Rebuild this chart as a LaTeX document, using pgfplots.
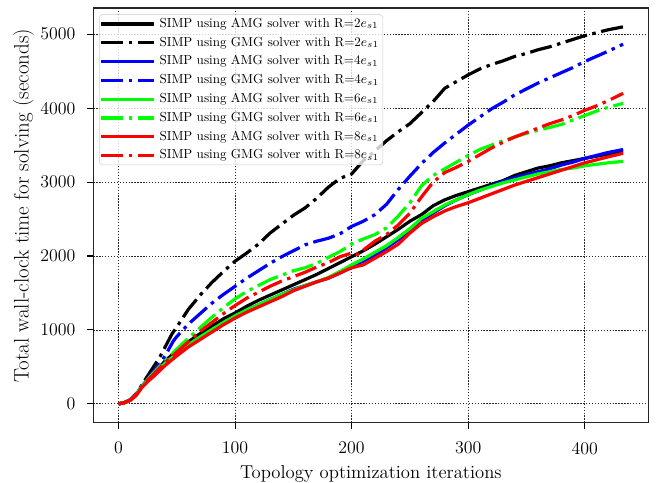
\RequirePackage{fix-cm}
\documentclass[border=0pt]{standalone}
\usepackage{fontspec}
\usepackage{pgfplots}
\pgfplotsset{compat=1.18}
\tikzset{dd/.style={dash pattern=on 16.7pt off 4.2pt on 2.6pt off 4.2pt}}
\begin{document}
\begin{tikzpicture}
\begin{axis}[
 scale only axis, width=416.25pt, height=311pt,
 xmin=-21.65, xmax=454.65, ymin=-255, ymax=5355,
 xtick={0,100,200,300,400}, ytick={0,1000,2000,3000,4000,5000},
 tick align=outside, xtick pos=bottom, ytick pos=left,
 major tick length=5pt,
 tick style={black, line width=0.8pt},
 grid=major, major grid style={black!85, line width=0.5pt, dash pattern=on 1pt off 1.2pt},
 axis line style={black!85, line width=0.9pt},
 /pgf/number format/assume math mode=true, /pgf/number format/1000 sep={},
 tick label style={font=\fontsize{13.4}{16}\selectfont},
 yticklabel style={xshift=-5pt}, xticklabel style={yshift=-6pt},
 xlabel={Topology optimization iterations},
 ylabel={Total wall-clock time for solving (seconds)},
 xlabel style={font=\fontsize{14}{17}\selectfont, at={(axis description cs:0.5,-0.091)}, anchor=north},
 ylabel style={font=\fontsize{15.7}{18}\selectfont, at={(axis description cs:-0.1259,0.523)}, anchor=center},
 legend style={at={(axis description cs:0,1)}, anchor=north west, xshift=4.3pt, yshift=-4.7pt,
   font=\fontsize{9.8}{11}\selectfont, draw=black!20, fill=white, fill opacity=0.8, text opacity=1,
   rounded corners=2.5pt, inner xsep=0pt, inner ysep=0pt, row sep=0pt,
   nodes={inner xsep=3pt, inner ysep=2.3pt, text height=7.3pt, text depth=2.2pt}},
 legend cell align=left,
 legend image code/.code={\draw[#1] (0pt,0pt) -- (39.75pt,0pt);},
 every axis plot/.append style={line width=2.4pt, line join=round},
]
\addplot[black] coordinates {(0,0)(5,15)(10,50)(15,120)(20,240)(25,330)(30,410)(40,580)(50,720)(60,840)(70,950)(80,1050)(90,1150)(100,1230)(110,1320)(120,1400)(130,1470)(140,1540)(150,1610)(160,1680)(170,1750)(180,1830)(190,1910)(200,1990)(210,2070)(220,2160)(230,2260)(240,2360)(250,2470)(260,2560)(270,2680)(280,2760)(290,2820)(300,2870)(310,2920)(320,2970)(330,3020)(340,3090)(350,3140)(360,3190)(370,3220)(380,3260)(390,3290)(400,3320)(410,3350)(420,3380)(433,3420)};
\addlegendentry{SIMP using AMG solver with R=2$e_{s1}$}
\addplot[black, dd] coordinates {(0,0)(5,15)(10,55)(15,135)(20,255)(25,380)(30,500)(36,650)(40,770)(46,950)(50,1040)(60,1280)(70,1470)(80,1640)(90,1790)(100,1930)(110,2040)(120,2160)(130,2310)(140,2430)(150,2550)(160,2650)(170,2780)(180,2930)(190,3050)(200,3110)(210,3290)(220,3420)(230,3560)(240,3680)(250,3790)(260,3940)(270,4090)(280,4270)(290,4360)(300,4450)(310,4530)(320,4590)(330,4640)(340,4700)(350,4740)(360,4790)(370,4830)(380,4880)(390,4930)(400,4980)(410,5020)(420,5060)(433,5100)};
\addlegendentry{SIMP using GMG solver with R=2$e_{s1}$}
\addplot[blue] coordinates {(0,0)(5,15)(10,50)(15,120)(20,235)(25,320)(30,400)(40,550)(50,680)(60,800)(70,900)(80,1000)(90,1100)(100,1190)(110,1270)(120,1340)(130,1410)(140,1480)(150,1550)(160,1600)(170,1650)(180,1700)(190,1770)(200,1860)(210,1930)(220,2010)(230,2110)(240,2220)(250,2350)(260,2480)(270,2580)(280,2680)(290,2760)(300,2830)(310,2890)(320,2950)(330,3010)(340,3060)(350,3100)(360,3140)(370,3180)(380,3230)(390,3270)(400,3320)(410,3360)(420,3400)(433,3440)};
\addlegendentry{SIMP using AMG solver with R=4$e_{s1}$}
\addplot[blue, dd] coordinates {(0,0)(5,15)(10,55)(15,130)(20,245)(25,340)(30,440)(36,560)(40,650)(47,850)(50,910)(60,1080)(70,1220)(80,1360)(90,1480)(100,1590)(110,1700)(120,1800)(130,1900)(140,1990)(150,2070)(160,2150)(170,2200)(180,2240)(190,2300)(200,2400)(210,2470)(220,2560)(230,2700)(240,2900)(250,3080)(260,3250)(270,3400)(280,3530)(290,3650)(300,3770)(310,3880)(320,3990)(330,4080)(340,4180)(350,4260)(360,4340)(370,4410)(380,4480)(390,4550)(400,4630)(410,4700)(420,4770)(433,4865)};
\addlegendentry{SIMP using GMG solver with R=4$e_{s1}$}
\addplot[green] coordinates {(0,0)(5,15)(10,50)(15,120)(20,235)(25,320)(30,400)(40,550)(50,680)(60,800)(70,905)(80,1005)(90,1100)(100,1190)(110,1270)(120,1340)(130,1410)(140,1480)(150,1540)(160,1600)(170,1650)(180,1710)(190,1790)(200,1880)(210,1960)(220,2050)(230,2140)(240,2250)(250,2370)(260,2510)(270,2600)(280,2690)(290,2760)(300,2830)(310,2890)(320,2940)(330,2990)(340,3030)(350,3070)(360,3110)(370,3140)(380,3170)(390,3190)(400,3220)(410,3240)(420,3260)(433,3280)};
\addlegendentry{SIMP using AMG solver with R=6$e_{s1}$}
\addplot[green, dd] coordinates {(0,0)(5,15)(10,50)(15,125)(20,235)(25,330)(30,420)(40,580)(50,740)(60,890)(70,1030)(80,1170)(90,1300)(100,1420)(110,1520)(120,1600)(130,1680)(140,1740)(150,1800)(160,1840)(170,1900)(180,1980)(190,2060)(200,2160)(210,2230)(220,2290)(230,2380)(240,2540)(250,2720)(260,2950)(270,3090)(280,3180)(290,3270)(300,3360)(310,3440)(320,3500)(330,3560)(340,3610)(350,3660)(360,3700)(370,3740)(380,3780)(390,3840)(400,3900)(410,3960)(420,4010)(433,4065)};
\addlegendentry{SIMP using GMG solver with R=6$e_{s1}$}
\addplot[red] coordinates {(0,0)(5,15)(10,50)(15,110)(20,220)(25,300)(30,370)(40,520)(50,650)(60,770)(70,870)(80,970)(90,1070)(100,1160)(110,1240)(120,1310)(130,1380)(140,1450)(150,1530)(160,1590)(170,1650)(180,1700)(190,1770)(200,1840)(210,1880)(220,1970)(230,2060)(240,2160)(250,2310)(260,2440)(270,2530)(280,2610)(290,2670)(300,2720)(310,2780)(320,2840)(330,2900)(340,2960)(350,3010)(360,3060)(370,3110)(380,3160)(390,3210)(400,3260)(410,3300)(420,3340)(433,3390)};
\addlegendentry{SIMP using AMG solver with R=8$e_{s1}$}
\addplot[red, dd] coordinates {(0,0)(5,15)(10,50)(15,125)(20,230)(25,320)(30,400)(40,560)(50,700)(60,840)(70,980)(80,1100)(90,1220)(100,1330)(110,1430)(120,1510)(130,1590)(140,1660)(150,1720)(160,1780)(170,1850)(180,1910)(190,1990)(200,2040)(205,2020)(210,2080)(220,2200)(230,2290)(240,2420)(250,2580)(260,2800)(270,3000)(280,3130)(290,3200)(300,3280)(310,3370)(320,3460)(330,3540)(340,3610)(350,3670)(360,3730)(370,3790)(380,3840)(390,3900)(400,3970)(410,4030)(420,4100)(433,4200)};
\addlegendentry{SIMP using GMG solver with R=8$e_{s1}$}
\coordinate (sw) at (rel axis cs:0,0);
\coordinate (ne) at (rel axis cs:1,1);
\end{axis}
\pgfresetboundingbox
\path ([shift={(-70pt,-45.2pt)}]sw) rectangle ([shift={(9.5pt,6pt)}]ne);
\end{tikzpicture}
\end{document}
